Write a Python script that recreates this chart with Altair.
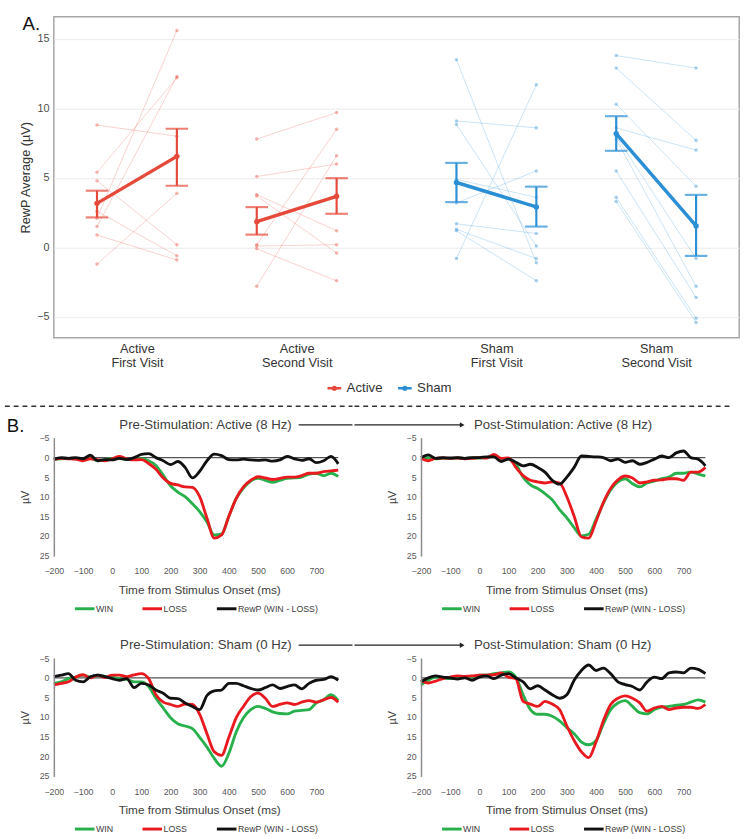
import altair as alt
import pandas as pd

FONT = "Liberation Sans"
RED = "#e5493a"
BLUE = "#2a8fd5"
TXT = "#333333"

# ---------------- Panel A: RewP average per participant ----------------
group_labels = [["Active", "First Visit"], ["Active", "Second Visit"],
                ["Sham", "First Visit"], ["Sham", "Second Visit"]]
group_cond = ["Active", "Active", "Sham", "Sham"]
group_pos = [1.0, 2.0, 3.25, 4.25]   # x slot of each visit
dodge = 0.25                           # pre / post half spacing inside a slot

pre_vals = [
    [8.8, 5.4, 4.8, 2.6, 2.1, 1.5, 0.9, -1.2],
    [7.8, 5.1, 3.8, 3.7, 0.2, 0.1, -0.1, -2.8],
    [13.5, 9.1, 8.85, 4.9, 3.2, 1.7, 1.3, 1.2, -0.8],
    [13.8, 12.9, 10.3, 8.6, 8.0, 7.8, 5.5, 3.6, 3.3],
]
post_vals = [
    [8.0, 12.2, 0.2, -0.6, 15.6, 12.3, -0.9, 3.9],
    [9.7, 6.0, 1.2, -0.4, 8.5, 0.2, -2.4, 6.6],
    [-1.1, 8.6, 0.1, 3.6, 5.5, 1.0, -0.8, -2.4, 11.7],
    [12.9, 7.7, 4.4, 7.0, -0.8, -2.8, -3.6, -5.1, -5.4],
]
mean_pre = [3.17, 1.85, 4.67, 8.19]
lo_pre = [2.16, 0.92, 3.26, 6.95]
hi_pre = [4.08, 2.90, 6.08, 9.44]
mean_post = [6.55, 3.68, 2.91, 1.55]
lo_post = [4.44, 2.42, 1.50, -0.61]
hi_post = [8.54, 4.98, 4.37, 3.78]

subj_rows = []
summ_rows = []
for g in range(4):
    xa, xb = group_pos[g] - dodge, group_pos[g] + dodge
    for i, (a, b) in enumerate(zip(pre_vals[g], post_vals[g])):
        sid = f"{g}-{i}"
        subj_rows.append({"subj": sid, "cond": group_cond[g], "x": xa, "y": a})
        subj_rows.append({"subj": sid, "cond": group_cond[g], "x": xb, "y": b})
    summ_rows.append({"g": g, "cond": group_cond[g], "x": xa, "y": mean_pre[g], "lo": lo_pre[g], "hi": hi_pre[g]})
    summ_rows.append({"g": g, "cond": group_cond[g], "x": xb, "y": mean_post[g], "lo": lo_post[g], "hi": hi_post[g]})
subj_df = pd.DataFrame(subj_rows)
summ_df = pd.DataFrame(summ_rows)
one = pd.DataFrame({"k": [0]})

label_expr = " : ".join(
    [f"datum.value == {p} ? ['{a}', '{b}']" for p, (a, b) in zip(group_pos[:-1], group_labels[:-1])]
    + [f"['{group_labels[-1][0]}', '{group_labels[-1][1]}']"]
)

x_scale = alt.Scale(domain=[0.48, 4.77], nice=False, zero=False)
x_axis = alt.Axis(values=group_pos, labelExpr=label_expr, grid=False, ticks=False, domain=False,
                  labelFontSize=13, labelColor=TXT, labelPadding=5, labelLineHeight=14,
                  labelOverlap=False, labelFlush=False, title=None)
y_scale = alt.Scale(domain=[-6.5, 16.6], nice=False, zero=False)
y_axis = alt.Axis(values=[-5, 0, 5, 10, 15], grid=True, gridColor="#ebebeb", gridWidth=1,
                  ticks=False, domain=False, labelFontSize=11, labelColor="#4d4d4d",
                  labelPadding=5, labelFlush=False, labelOverlap=False, title="RewP Average (µV)",
                  titleFontSize=13, titleFontWeight="normal", titleColor=TXT, titlePadding=4)
cond_scale = alt.Scale(domain=["Active", "Sham"], range=[RED, BLUE])


def X(f):
    return alt.X(f"{f}:Q", scale=x_scale, axis=x_axis)


def Y(f):
    return alt.Y(f"{f}:Q", scale=y_scale, axis=y_axis)


def C(legend=None):
    return alt.Color("cond:N", scale=cond_scale, legend=legend)


legend_a = alt.Legend(orient="none", legendX=278, legendY=371, direction="horizontal", title=None,
                      labelFontSize=13.5, labelColor=TXT, labelOffset=4, columnPadding=10, padding=0,
                      symbolType="M-1,0H1M-0.2,0a0.2,0.2 0 1,0 0.4,0a0.2,0.2 0 1,0 -0.4,0",
                      symbolSize=196, symbolStrokeWidth=2.5)

frame_a = alt.Chart(one).mark_rect(opacity=0).encode(
    x=alt.value(-40), x2=alt.value(710), y=alt.value(-7), y2=alt.value(390))
subj_lines = alt.Chart(subj_df).mark_line(strokeWidth=1, opacity=0.25).encode(
    x=X("x"), y=Y("y"), color=C(), detail="subj:N")
subj_pts = alt.Chart(subj_df).mark_circle(size=13, opacity=0.4).encode(
    x=X("x"), y=Y("y"), color=C())
bars = alt.Chart(summ_df).mark_rule(strokeWidth=2.2).encode(
    x=X("x"), y=Y("lo"), y2="hi:Q", color=C())
cap_lo = alt.Chart(summ_df).mark_tick(orient="horizontal", size=23, thickness=2.2).encode(
    x=X("x"), y=Y("lo"), color=C())
cap_hi = alt.Chart(summ_df).mark_tick(orient="horizontal", size=23, thickness=2.2).encode(
    x=X("x"), y=Y("hi"), color=C())
mean_line = alt.Chart(summ_df).mark_line(strokeWidth=3.5).encode(
    x=X("x"), y=Y("y"), color=C(legend_a), detail="g:N")
mean_pts = alt.Chart(summ_df).mark_circle(size=30, opacity=1).encode(
    x=X("x"), y=Y("y"), color=C())
tag_a = alt.Chart(one).mark_text(text="A.", fontSize=19, align="left", baseline="middle", color="#111").encode(
    x=alt.value(-32), y=alt.value(8))

top = alt.layer(frame_a, subj_lines, subj_pts, bars, cap_lo, cap_hi, mean_line, mean_pts, tag_a).properties(
    width=700, height=328, view=alt.ViewBackground(stroke="#a6a6a6", strokeWidth=1.5)
).resolve_legend(color="independent")

# ---------------- Panel B: grand-average ERPs ----------------
times = list(range(-200, 800, 25))
series_names = ["WIN", "LOSS", "RewP (WIN - LOSS)"]
series_colors = ["#27b04b", "#e8191f", "#111111"]

pre_active_win = [0.5, 0.3, 0.2, 0.3, 0.6, 0.2, 0.8, 0.5, 0.3, 0.2, 0.5, 0.5, 0.3, 0.8, 2.0, 4.5, 7.2, 8.8, 10.0, 11.8,
                  13.8, 16.5, 19.8, 19.6, 15.0, 10.5, 7.8, 6.0, 5.3, 5.8, 6.3, 5.8, 5.3, 5.2, 5.0, 4.2, 4.0, 4.6, 4.0, 4.8]
pre_active_loss = [0.5, 0.2, 0.3, 0.4, 0.8, 0.3, 0.5, 0.8, 0.3, -0.3, 0.3, 0.6, 0.5, 1.5, 3.0, 5.2, 6.6, 7.0, 7.5, 7.6,
                   10.0, 15.5, 20.6, 19.8, 15.0, 10.5, 7.5, 5.8, 4.9, 5.2, 5.6, 5.3, 5.0, 5.0, 4.6, 4.0, 4.0, 3.6, 3.4, 3.2]
pre_active_rewp = [0.4, 0.0, 0.2, 0.0, 0.3, -0.6, 0.8, 0.5, 0.6, 0.2, 0.5, 0.0, -0.8, -1.0, 0.0, 0.8, 1.8, 1.0, 2.5, 5.2,
                   3.5, 0.8, -0.9, -0.5, 0.5, 0.6, 0.4, 0.6, 0.7, 0.6, 0.9, 0.6, -0.3, 0.3, 0.7, 0.3, 1.3, 0.8, -0.3, 1.6]

post_active_win = [0.3, 0.0, 0.3, 0.2, 0.2, 0.1, 0.2, 0.1, 0.1, 0.0, -0.4, 0.5, 0.4, 1.7, 5.0, 7.0, 7.9, 9.2, 10.8, 13.3,
                   15.4, 17.9, 20.0, 19.6, 15.8, 11.7, 8.3, 6.2, 5.4, 6.7, 7.5, 6.5, 6.0, 5.4, 5.0, 4.0, 4.0, 3.7, 4.2, 4.7]
post_active_loss = [0.2, 0.8, 0.2, 0.1, 0.2, 0.1, 0.3, 0.2, 0.0, 0.1, -0.8, 0.2, 0.1, 2.5, 4.6, 5.8, 6.2, 6.5, 6.2, 6.5,
                    10.0, 15.0, 20.3, 20.6, 16.3, 11.5, 7.9, 5.7, 4.7, 5.2, 6.5, 6.2, 5.8, 5.7, 5.4, 5.4, 5.8, 3.7, 3.7, 2.5]
post_active_rewp = [0.0, -0.7, 0.2, 0.0, 0.1, 0.0, 0.2, 0.0, 0.0, -0.2, -0.2, 1.0, 0.4, 1.2, 2.1, 1.7, 2.5, 3.7, 5.8, 6.8,
                    5.0, 2.5, -0.4, -0.3, -0.2, 0.0, 0.8, 0.4, 1.2, 0.8, 1.7, 1.2, 0.4, -0.4, 0.0, -1.2, -1.7, 0.0, 0.4, 2.1]

pre_sham_win = [1.4, 1.0, 0.2, -0.2, -0.7, -0.2, -0.7, -0.4, -0.2, 0.2, 0.4, 1.0, 1.0, 2.2, 5.2, 7.7, 10.2, 11.7, 12.3, 13.0,
                15.2, 17.7, 20.6, 22.6, 19.3, 13.9, 10.2, 8.1, 7.3, 7.8, 8.7, 9.1, 9.2, 8.5, 8.3, 8.1, 6.4, 5.6, 4.3, 5.8]
pre_sham_loss = [1.8, 1.4, 1.0, -0.2, -0.8, 0.0, -0.7, -0.1, -0.7, -0.7, -0.3, -0.8, -1.1, 0.2, 4.3, 6.2, 6.8, 7.3, 6.7, 6.8,
                 9.3, 14.3, 18.9, 19.8, 15.2, 10.2, 7.3, 4.8, 3.9, 5.2, 7.3, 6.8, 6.4, 6.8, 6.2, 5.8, 6.2, 5.6, 5.0, 6.2]
pre_sham_rewp = [-0.3, -0.7, -1.1, 0.6, 1.0, -0.3, -0.7, -0.3, 0.2, 0.6, 0.2, 2.5, 1.4, 1.8, 3.1, 3.9, 5.2, 5.3, 6.4, 7.3,
                 8.1, 4.5, 3.3, 3.1, 1.4, 1.4, 2.0, 2.7, 3.1, 2.5, 1.8, 2.7, 2.2, 1.8, 2.8, 1.4, 0.6, 0.4, -0.3, 0.6]

post_sham_win = [1.8, 0.6, -0.2, 0.0, 0.2, 0.0, -0.2, -0.2, -0.7, -0.7, -1.1, -1.3, -1.5, -0.2, 4.3, 8.1, 9.3, 9.3, 9.8, 11.0,
                 12.7, 14.3, 16.4, 17.1, 16.0, 11.8, 8.1, 6.4, 5.8, 7.3, 8.9, 9.2, 8.1, 7.5, 7.3, 7.0, 6.8, 6.2, 5.6, 6.2]
post_sham_loss = [0.6, 1.3, 0.8, 0.2, -0.2, -0.5, -0.4, -0.5, -0.7, -0.7, -0.8, -1.3, -0.2, 0.2, 6.0, 6.7, 7.3, 6.0, 6.7, 8.1,
                  12.3, 16.0, 18.9, 20.4, 16.4, 11.0, 6.8, 5.2, 4.6, 5.2, 6.4, 8.5, 7.7, 7.3, 8.1, 7.7, 7.5, 7.5, 7.8, 6.8]
post_sham_rewp = [1.0, 0.0, -0.5, -0.2, 0.0, 0.3, 0.0, 0.6, -0.2, -0.5, 0.2, -0.7, -1.1, 0.0, 1.0, 2.8, 2.0, 3.1, 4.3, 5.2,
                  4.3, 0.6, -1.9, -3.3, -1.9, -2.5, -1.1, 1.0, 1.7, 2.2, 3.1, 1.0, -0.2, 0.2, -1.3, -1.5, -1.3, -2.5, -2.2, -1.1]

erp_titles = ["Pre-Stimulation: Active (8 Hz)", "Post-Stimulation: Active (8 Hz)",
              "Pre-Stimulation: Sham (0 Hz)", "Post-Stimulation: Sham (0 Hz)"]

series_scale = alt.Scale(domain=series_names, range=series_colors)
erp_x = alt.Scale(domain=[-200, 797], nice=False, zero=False)
erp_y = alt.Scale(domain=[-5.1, 25.2], reverse=True, nice=False, zero=False)
erp_x_axis = alt.Axis(values=list(range(-200, 800, 100)), grid=False, ticks=False, domain=False,
                      labelFontSize=9, labelColor="#595959", labelPadding=11, labelFlush=False,
                      labelOverlap=False, labelBound=False,
                      title="Time from Stimulus Onset (ms)", titleFontSize=12, titleFontWeight="normal",
                      titleColor="#404040", titlePadding=9)
erp_y_axis = alt.Axis(values=list(range(-5, 30, 5)), grid=False, ticks=False, domain=True,
                      domainColor="#8c8c8c", domainWidth=1.5, labelFontSize=9, labelColor="#595959",
                      labelPadding=5, labelFlush=False, labelOverlap=False, labelBound=False,
                      title="µV", titleFontSize=11, zindex=1,
                      titleFontWeight="normal", titleColor="#404040", titlePadding=9)
erp_legend = alt.Legend(orient="none", legendX=20, legendY=163, direction="horizontal", title=None,
                        symbolType="stroke", symbolSize=400, symbolStrokeWidth=3, labelFontSize=9,
                        labelColor="#404040", labelOffset=0, columnPadding=23, padding=0)

PW, PH = 297, 121


def erp_panel(win, loss, rewp, title, side, frame_top, frame_bottom, tag=None, divider=False):
    n = len(times)
    df = pd.DataFrame({"t": times * 3, "v": win + loss + rewp,
                       "series": [series_names[0]] * n + [series_names[1]] * n + [series_names[2]] * n})
    left_edge, right_edge = (-55, 305) if side == "left" else (-68, 322)
    layers = [alt.Chart(one).mark_rect(fill="transparent", opacity=0).encode(
        x=alt.value(left_edge), x2=alt.value(right_edge), y=alt.value(frame_top), y2=alt.value(frame_bottom))]
    layers.append(alt.Chart(one).mark_rule(color="#555555", strokeWidth=1.3).encode(
        x=alt.X("a:Q", scale=erp_x, axis=erp_x_axis), x2="b:Q",
        y=alt.Y("z:Q", scale=erp_y, axis=erp_y_axis)
    ).transform_calculate(a="-200", b="775", z="0"))
    for s in series_names:
        layers.append(alt.Chart(df).transform_filter(alt.datum.series == s).mark_line(
            strokeWidth=2.9, interpolate="monotone").encode(
            x=alt.X("t:Q", scale=erp_x, axis=erp_x_axis),
            y=alt.Y("v:Q", scale=erp_y, axis=erp_y_axis),
            color=alt.Color("series:N", scale=series_scale, legend=erp_legend)))
    if side == "left":
        layers.append(alt.Chart(one).mark_text(text=title, fontSize=13.5, align="right", baseline="middle",
                                                color="#404040").encode(x=alt.value(243), y=alt.value(-13)))
        layers.append(alt.Chart(one).mark_rule(color="#222222", strokeWidth=1.3).encode(
            x=alt.value(250), x2=alt.value(305), y=alt.value(-13)))
    else:
        layers.append(alt.Chart(one).mark_text(text=title, fontSize=13.5, align="left", baseline="middle",
                                                color="#404040").encode(x=alt.value(54), y=alt.value(-13)))
        layers.append(alt.Chart(one).mark_rule(color="#222222", strokeWidth=1.3).encode(
            x=alt.value(-68), x2=alt.value(40), y=alt.value(-13)))
        layers.append(alt.Chart(one).mark_point(shape="triangle-right", filled=True, size=30, opacity=1,
                                                 color="#222222").encode(x=alt.value(42), y=alt.value(-13)))
    if divider:
        x_from = -50 if side == "left" else -68
        x_to = 305 if side == "left" else 317
        layers.append(alt.Chart(one).mark_rule(strokeDash=[5, 4], strokeWidth=1.6, color="#333").encode(
            x=alt.value(x_from), x2=alt.value(x_to), y=alt.value(-32)))
    if tag:
        layers.append(alt.Chart(one).mark_text(text=tag, fontSize=19, align="left", baseline="middle",
                                                color="#111").encode(x=alt.value(-48), y=alt.value(-12)))
    return alt.layer(*layers).properties(width=PW, height=PH)


p1 = erp_panel(pre_active_win, pre_active_loss, pre_active_rewp, erp_titles[0], "left", -39, 177,
               tag="B.", divider=True)
p2 = erp_panel(post_active_win, post_active_loss, post_active_rewp, erp_titles[1], "right", -39, 177,
               divider=True)
p3 = erp_panel(pre_sham_win, pre_sham_loss, pre_sham_rewp, erp_titles[2], "left", -44, 177)
p4 = erp_panel(post_sham_win, post_sham_loss, post_sham_rewp, erp_titles[3], "right", -44, 177)

row1 = alt.hconcat(p1, p2, spacing=0).resolve_scale(color="independent").resolve_legend(color="independent")
row2 = alt.hconcat(p3, p4, spacing=0).resolve_scale(color="independent").resolve_legend(color="independent")

chart = alt.vconcat(top, row1, row2, spacing=0).resolve_scale(color="independent").resolve_legend(
    color="independent").properties(padding=0, background="white").configure(font=FONT).configure_view(stroke=None)

chart.save("out.html", embed_options={"renderer": "svg", "actions": False})
